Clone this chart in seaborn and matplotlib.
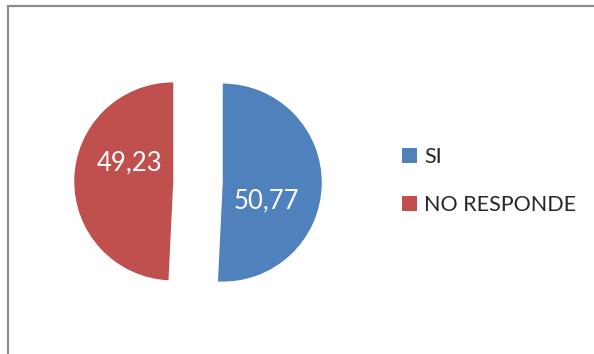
import numpy as np
import matplotlib
matplotlib.use("Agg")
import matplotlib.pyplot as plt
from matplotlib.patches import Rectangle
import seaborn as sns

categories = ["SI", "NO RESPONDE"]
values = [50.77, 49.23]
value_labels = ["50,77", "49,23"]

sns.set_theme(style="white")
plt.rcParams["font.family"] = ["Lato", "DejaVu Sans"]
colors = sns.color_palette(["#4F81BD", "#C0504D"])

W, H, DPI = 594, 354, 100
fig = plt.figure(figsize=(W / DPI, H / DPI), dpi=DPI)
fig.patch.set_facecolor("white")

# chart frame (only top and left edges fall inside the canvas)
fig.patches.append(Rectangle((8 / W, -0.2), 1.2, 1 - 6 / H + 0.2,
                             transform=fig.transFigure, fill=False,
                             edgecolor="#8c8c8c", linewidth=1.6))

# pie axes: centre at (198, 182) px, radius 99 px
cx, cy, R = 198, 182, 99
L = 1.4
size = 2 * L * R
ax = fig.add_axes([(cx - size / 2) / W, (H - cy - size / 2) / H, size / W, size / H])
wedges, _ = ax.pie(values, colors=colors, startangle=90, counterclock=False,
                   explode=[0.25, 0.25], radius=1.0,
                   wedgeprops=dict(linewidth=0))
ax.set_xlim(-L, L)
ax.set_ylim(-L, L)
ax.set_aspect("equal")
ax.axis("off")

# value labels inside each slice, turned a little clockwise from the bisector
for w, lab in zip(wedges, value_labels):
    ang = np.deg2rad((w.theta1 + w.theta2) / 2 - 21)
    x0, y0 = w.center
    ax.text(x0 + 0.48 * np.cos(ang), y0 + 0.48 * np.sin(ang), lab,
            ha="center", va="center", color="white", fontsize=18.5)

fig.legend(wedges, categories, loc="center left",
           bbox_to_anchor=(393 / W, 1 - 181 / H), frameon=False,
           fontsize=15.5, handlelength=0.7, handleheight=0.7,
           handletextpad=0.35, labelspacing=1.3, borderaxespad=0)

fig.savefig("out.png", dpi=DPI, facecolor="white")
